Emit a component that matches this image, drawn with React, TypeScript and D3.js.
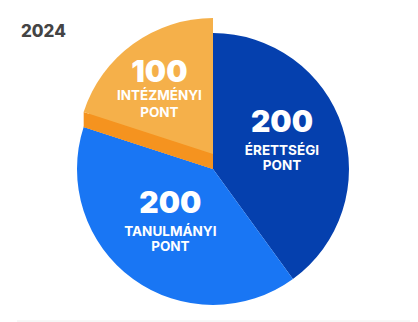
import React from "react";
import * as d3 from "d3";

const title = "2024";
const categories = ["ÉRETTSÉGI", "TANULMÁNYI", "INTÉZMÉNYI"];
const values = [200, 200, 100];
const subLabel = "PONT";
const colors = ["#0540AE", "#1976F4", "#F5B04A"];
const pulledColor = "#F5931F";
const pulledIndex = 2;

export default function App() {
  const W = 418, H = 322;
  const cx = 213, cy = 169, R = 136, pull = 15;
  const pie = d3.pie<number>().sort(null).value((d) => d)(values);
  const arc = d3.arc<d3.PieArcDatum<number>>().innerRadius(0).outerRadius(R);
  const labelArc = d3.arc<d3.PieArcDatum<number>>().innerRadius(0).outerRadius(145);

  const pulled = pie[pulledIndex];
  const a0 = pulled.startAngle;
  const ex = R * Math.sin(a0), ey = -R * Math.cos(a0);
  const band = d3.path();
  band.moveTo(0, 0);
  band.lineTo(ex, ey);
  band.lineTo(ex, ey - pull);
  band.lineTo(0, -pull);
  band.closePath();

  return (
    <svg width={W} height={H} style={{ position: "absolute", left: 0, top: 0 }}>
      <rect width={W} height={H} fill="#fff" />
      <text x={21} y={37} fontFamily="Inter, 'DejaVu Sans', sans-serif" fontWeight={800} fontSize={17} fill="#444">
        {title}
      </text>
      <line x1={17} x2={410} y1={321} y2={321} stroke="#eeeeee" strokeWidth={1} />
      <g transform={`translate(${cx},${cy})`}>
        {pie.map((p, i) => (
          <path key={i} d={arc(p) as string} fill={i === pulledIndex ? pulledColor : colors[i]} />
        ))}
        <path d={band.toString()} fill={pulledColor} />
        <path d={arc(pulled) as string} fill={colors[pulledIndex]} transform={`translate(0,${-pull})`} />
        {pie.map((p, i) => {
          const [lx0, ly0] = labelArc.centroid(p);
          const isPulled = i === pulledIndex;
          const lx = lx0 - (isPulled ? 11 : 0);
          const ly = ly0 - (isPulled ? 14 : 0);
          return (
            <g key={"l" + i} transform={`translate(${lx},${ly})`} fill="#fff" textAnchor="middle"
              fontFamily="Inter, 'DejaVu Sans', sans-serif">
              <text y={isPulled ? -14 : -15} fontSize={30} fontWeight={900}>{values[i]}</text>
              <text y={isPulled ? 4 : 8} fontSize={13.5} fontWeight={700}>{categories[i]}</text>
              <text y={isPulled ? 21 : 23} fontSize={13.5} fontWeight={700}>{subLabel}</text>
            </g>
          );
        })}
      </g>
    </svg>
  );
}
